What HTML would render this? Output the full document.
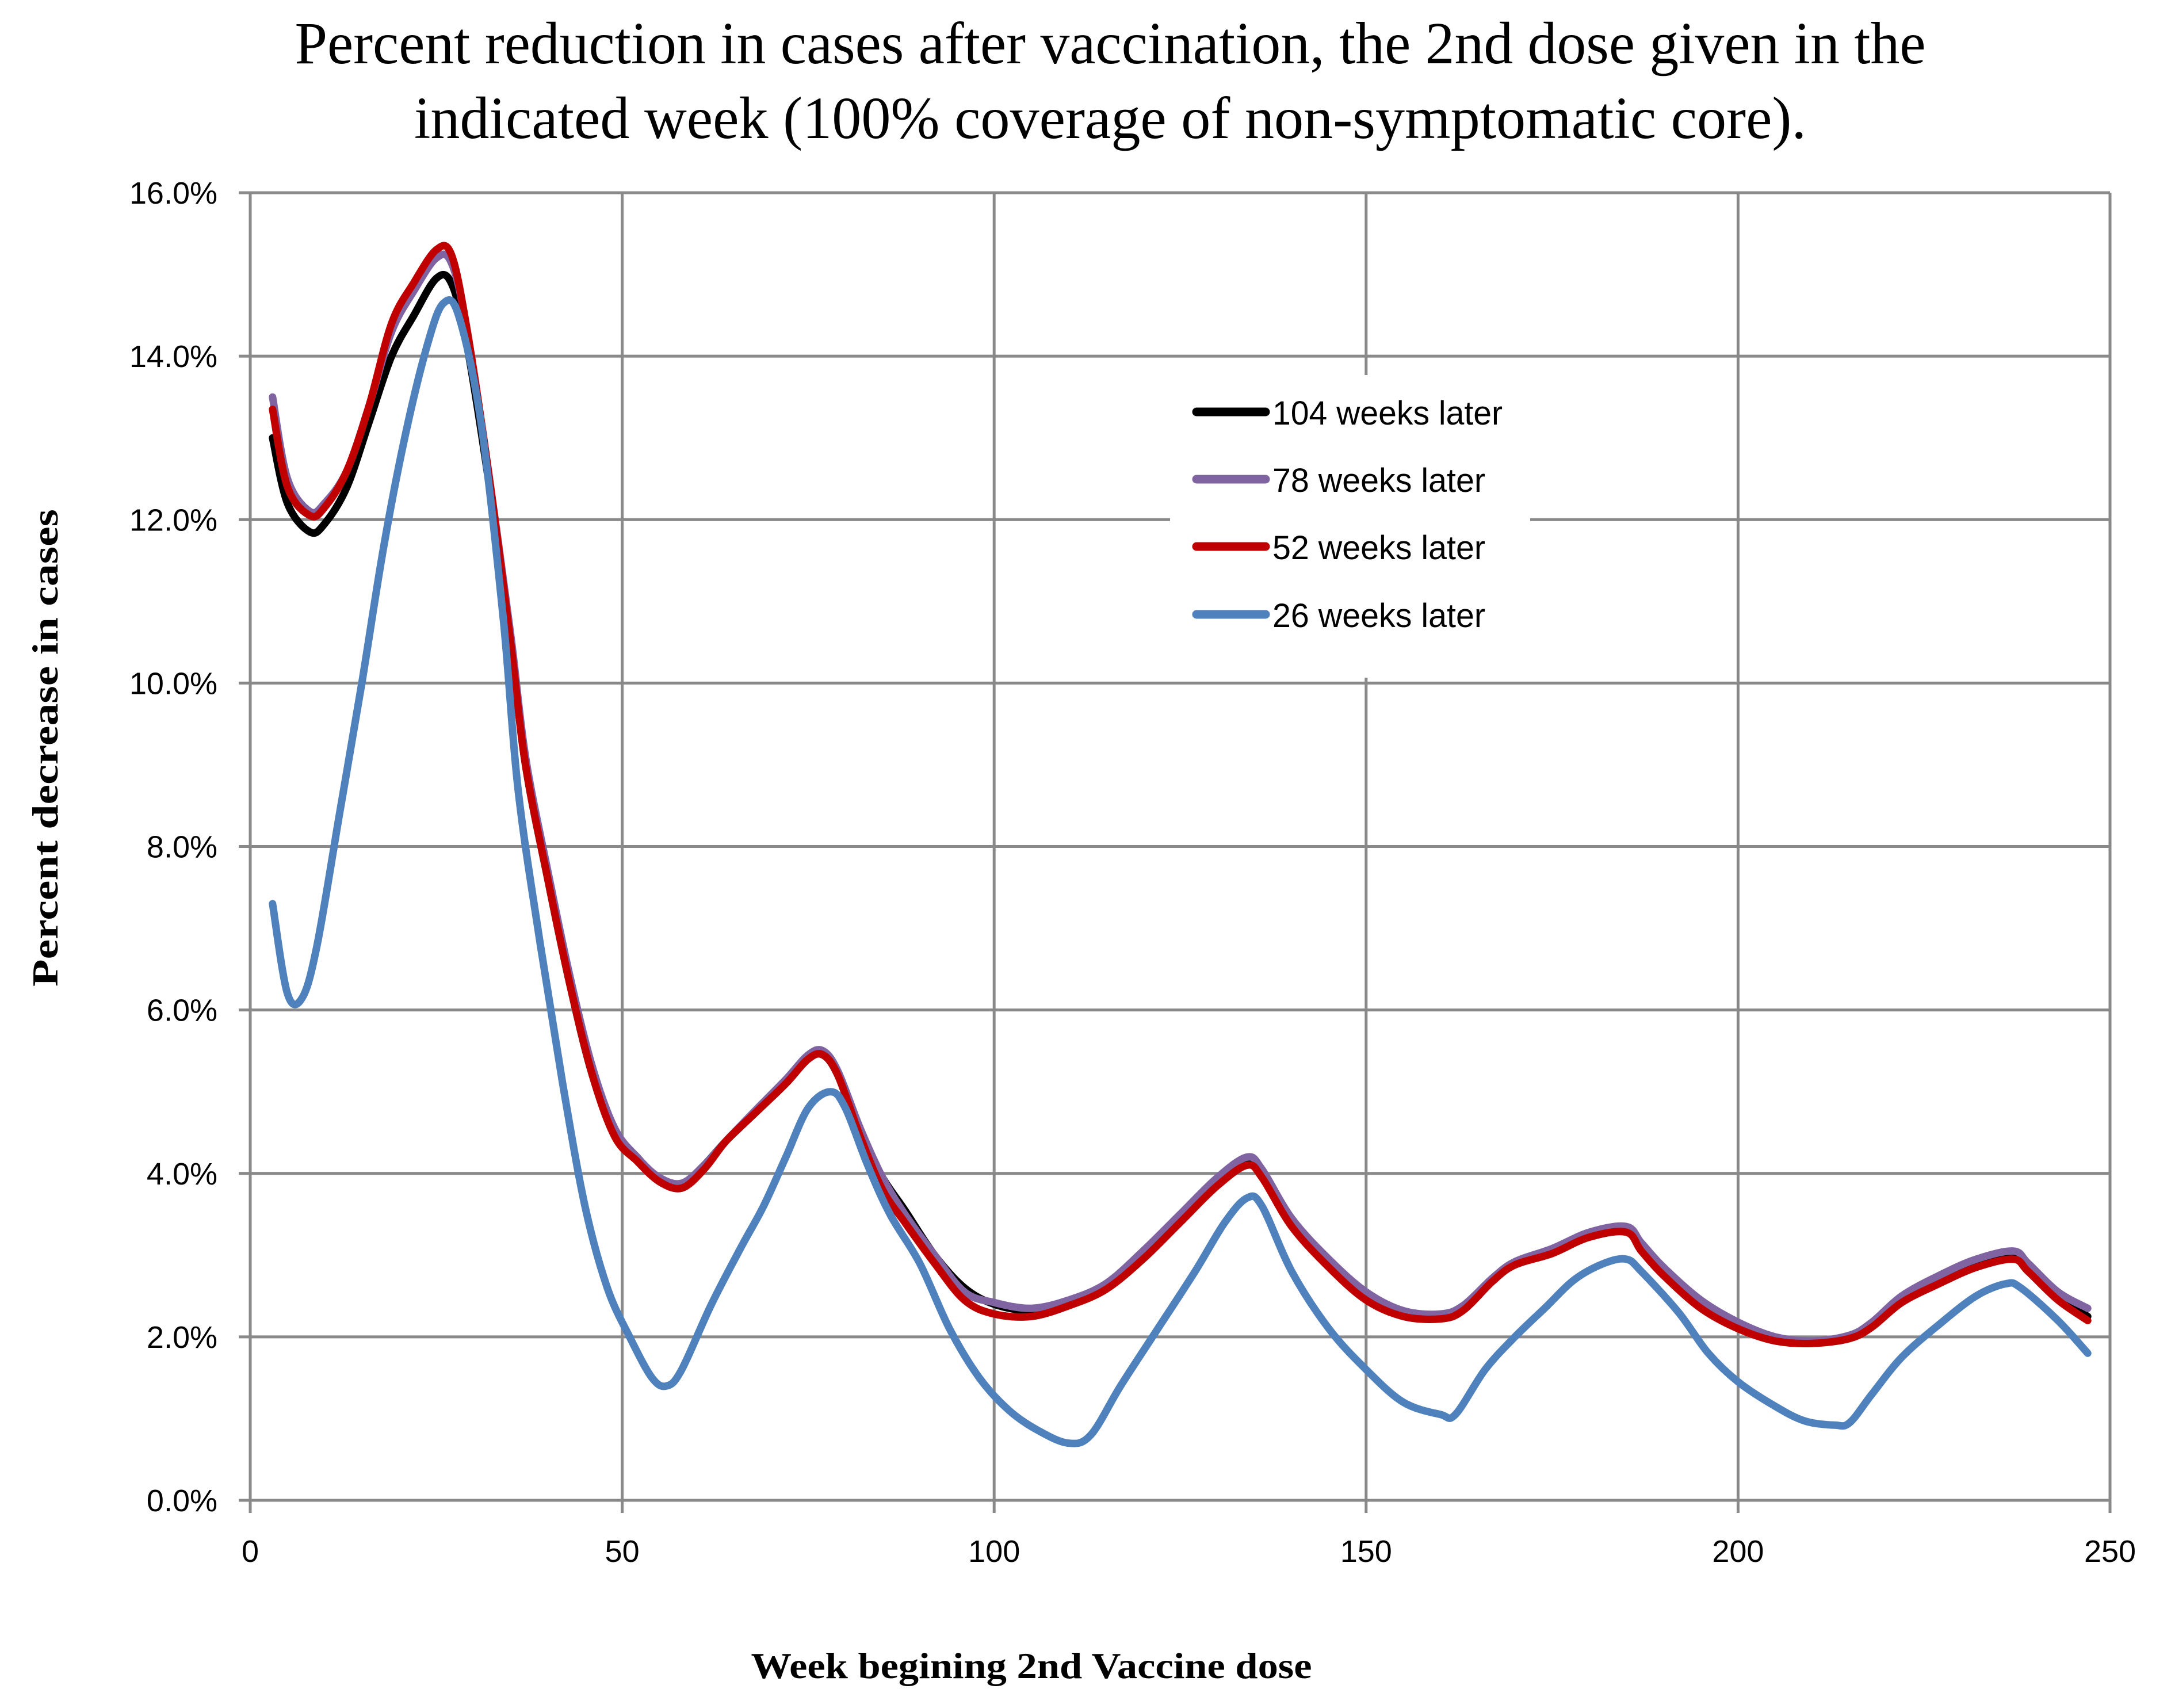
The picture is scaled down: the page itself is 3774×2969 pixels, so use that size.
<!DOCTYPE html>
<html><head><meta charset="utf-8"><style>
html,body{margin:0;padding:0;background:#fff;}
svg{display:block;}
</style></head><body>
<svg id="chart" width="3774" height="2969" viewBox="0 0 3774 2969" xmlns="http://www.w3.org/2000/svg">
<rect width="3774" height="2969" fill="#fff"/>
<g font-family="Liberation Serif, serif" font-size="104" text-anchor="middle" fill="#000">
<text x="1930" y="110" textLength="2835" lengthAdjust="spacingAndGlyphs">Percent reduction in cases after vaccination, the 2nd dose given in the</text>
<text x="1930" y="240" textLength="2420" lengthAdjust="spacingAndGlyphs">indicated week (100% coverage of non-symptomatic core).</text>
</g>
<g id="grid"></g>
<g id="ticks" font-family="Liberation Sans, sans-serif" font-size="54" fill="#000"></g>
<g id="series"></g>
<g>
<rect x="2034" y="652" width="626" height="526" fill="#fff"/>
<g id="legend-items"></g>
</g>
<text transform="translate(100,1300) rotate(-90)" font-family="Liberation Serif, serif" font-weight="bold" font-size="64" text-anchor="middle" textLength="830" lengthAdjust="spacingAndGlyphs">Percent  decrease in cases</text>
<text x="1793" y="2917" font-family="Liberation Serif, serif" font-weight="bold" font-size="64" text-anchor="middle" textLength="975" lengthAdjust="spacingAndGlyphs">Week begining 2nd Vaccine dose</text>
</svg>
<script>
const xTicks=[0,50,100,150,200,250];
const yTicks=[0,2,4,6,8,10,12,14,16];
const seriesNames=["104 weeks later","78 weeks later","52 weeks later","26 weeks later"];
const weeks104=[3,5,8,10,13,16,19,22,25,27,29,32,35,37,40,43,46,49,52,55,58,61,64,68,72,75,77,79,82,85,88,92,96,100,105,110,115,120,125,130,134,136,140,145,150,155,160,163,167,170,175,180,185,187,190,195,200,205,210,215,218,222,227,232,237,239,243,247];
const vals104=[13.0,12.2,11.85,11.95,12.4,13.2,14.0,14.5,14.95,14.9,14.2,12.5,10.5,9.0,7.6,6.3,5.2,4.5,4.2,3.9,3.85,4.1,4.4,4.75,5.1,5.4,5.45,5.2,4.5,3.95,3.55,3.0,2.6,2.4,2.32,2.4,2.6,3.0,3.45,3.9,4.15,4.0,3.4,2.9,2.5,2.3,2.25,2.35,2.7,2.9,3.05,3.25,3.3,3.1,2.8,2.4,2.15,1.97,1.93,2.0,2.15,2.45,2.7,2.9,3.0,2.85,2.5,2.25];
const vals78=[13.5,12.5,12.1,12.2,12.6,13.4,14.3,14.8,15.2,15.15,14.4,12.6,10.6,9.1,7.7,6.4,5.3,4.55,4.2,3.95,3.88,4.1,4.4,4.78,5.15,5.45,5.5,5.25,4.55,3.95,3.5,3.0,2.55,2.42,2.35,2.45,2.65,3.05,3.5,3.95,4.2,4.05,3.45,2.95,2.55,2.32,2.28,2.38,2.72,2.92,3.08,3.28,3.35,3.15,2.85,2.45,2.18,2.0,1.95,2.02,2.18,2.5,2.75,2.95,3.05,2.9,2.55,2.35];
const vals52=[13.35,12.4,12.05,12.15,12.6,13.4,14.4,14.9,15.3,15.25,14.4,12.6,10.5,9.0,7.6,6.3,5.2,4.45,4.15,3.9,3.82,4.05,4.4,4.75,5.1,5.4,5.45,5.2,4.45,3.8,3.4,2.9,2.45,2.28,2.25,2.38,2.58,2.95,3.4,3.85,4.1,3.95,3.35,2.85,2.45,2.25,2.22,2.32,2.68,2.88,3.02,3.22,3.28,3.05,2.75,2.35,2.1,1.95,1.92,1.98,2.12,2.42,2.65,2.85,2.95,2.8,2.45,2.2];
const weeks26=[3,5,7,9,12,15,18,21,24,26,28,31,34,36,39,42,45,48,51,54,56,58,62,66,69,72,75,78,80,83,86,90,94,98,102,106,110,113,117,122,127,131,134,136,140,145,150,155,160,162,166,170,174,178,182,185,187,192,196,200,205,209,213,215,218,222,227,232,236,238,243,247];
const vals26=[7.3,6.2,6.15,6.8,8.4,10.0,11.7,13.1,14.2,14.65,14.5,13.2,10.8,8.7,6.8,5.1,3.6,2.6,2.0,1.5,1.4,1.6,2.4,3.1,3.6,4.2,4.8,5.0,4.8,4.1,3.5,2.9,2.1,1.5,1.1,0.85,0.7,0.8,1.4,2.1,2.8,3.4,3.7,3.6,2.8,2.1,1.6,1.2,1.05,1.05,1.6,2.0,2.35,2.7,2.9,2.95,2.8,2.3,1.8,1.45,1.15,0.97,0.92,0.95,1.3,1.75,2.15,2.5,2.65,2.6,2.2,1.8];

const NS='http://www.w3.org/2000/svg';
const X0=435,X1=3668,Y0=2608,Y1=335;
function xs(v){return X0+(v-0)/(250-0)*(X1-X0);}
function ys(v){return Y0-(v-0)/(16-0)*(Y0-Y1);}
function mk(tag,parent){const e=document.createElementNS(NS,tag);parent.appendChild(e);return e;}
const grid=document.getElementById('grid');
const ticks=document.getElementById('ticks');
yTicks.forEach(t=>{
  const l=mk('line',grid);
  
  
  l.setAttribute('x1',X0-20);l.setAttribute('x2',X1);l.setAttribute('y1',ys(t));l.setAttribute('y2',ys(t));
  l.setAttribute('stroke','#898989');l.setAttribute('stroke-width','5');
  const tx=mk('text',ticks);
  
  
  tx.setAttribute('x',378);tx.setAttribute('y',ys(t)+19);tx.setAttribute('text-anchor','end');
  tx.textContent=t.toFixed(1)+'%';
});
xTicks.forEach(t=>{
  const l=mk('line',grid);
  
  
  l.setAttribute('x1',xs(t));l.setAttribute('x2',xs(t));l.setAttribute('y1',Y1);l.setAttribute('y2',Y0+22);
  l.setAttribute('stroke','#898989');l.setAttribute('stroke-width','5');
  const tx=mk('text',ticks);
  
  
  tx.setAttribute('x',xs(t));tx.setAttribute('y',2715);tx.setAttribute('text-anchor','middle');
  tx.textContent=String(t);
});
function pathFor(wx,wy){
  const p=wx.map((w,i)=>[xs(w),ys(wy[i])]);
  let d='M'+p[0][0].toFixed(1)+','+p[0][1].toFixed(1);
  for(let i=0;i<p.length-1;i++){
    const a=p[Math.max(0,i-1)],b=p[i],c=p[i+1],e=p[Math.min(p.length-1,i+2)];
    const c1=[b[0]+(c[0]-a[0])/6,b[1]+(c[1]-a[1])/6],c2=[c[0]-(e[0]-b[0])/6,c[1]-(e[1]-b[1])/6];
    d+='C'+c1[0].toFixed(1)+','+c1[1].toFixed(1)+' '+c2[0].toFixed(1)+','+c2[1].toFixed(1)+' '+c[0].toFixed(1)+','+c[1].toFixed(1);
  }
  return d;
}
const colors=['#000000','#8064a2','#c00000','#4f81bd'];
const sData=[[weeks104,vals104],[weeks104,vals78],[weeks104,vals52],[weeks26,vals26]];
const sNames=['series-104-weeks','series-78-weeks','series-52-weeks','series-26-weeks'];
const sg=document.getElementById('series');
sData.forEach((s,i)=>{
  const p=mk('path',sg);
  
  
  p.setAttribute('d',pathFor(s[0],s[1]));
  p.setAttribute('fill','none');p.setAttribute('stroke',colors[i]);
  p.setAttribute('stroke-width','13');p.setAttribute('stroke-linecap','round');p.setAttribute('stroke-linejoin','round');
});
const lg=document.getElementById('legend-items');
const legY=[716,833,950,1068];
seriesNames.forEach((n,i)=>{
  const l=mk('line',lg);
  
  
  l.setAttribute('x1',2080);l.setAttribute('x2',2200);l.setAttribute('y1',legY[i]);l.setAttribute('y2',legY[i]);
  l.setAttribute('stroke',colors[i]);l.setAttribute('stroke-width','15');l.setAttribute('stroke-linecap','round');
  const t=mk('text',lg);
  
  
  t.setAttribute('x',2212);t.setAttribute('y',legY[i]+22);
  t.setAttribute('font-family','Liberation Sans, sans-serif');t.setAttribute('font-size','58');
  t.setAttribute('textLength',i===0?400:370);t.setAttribute('lengthAdjust','spacingAndGlyphs');
  t.textContent=n;
});
</script>
</body></html>
